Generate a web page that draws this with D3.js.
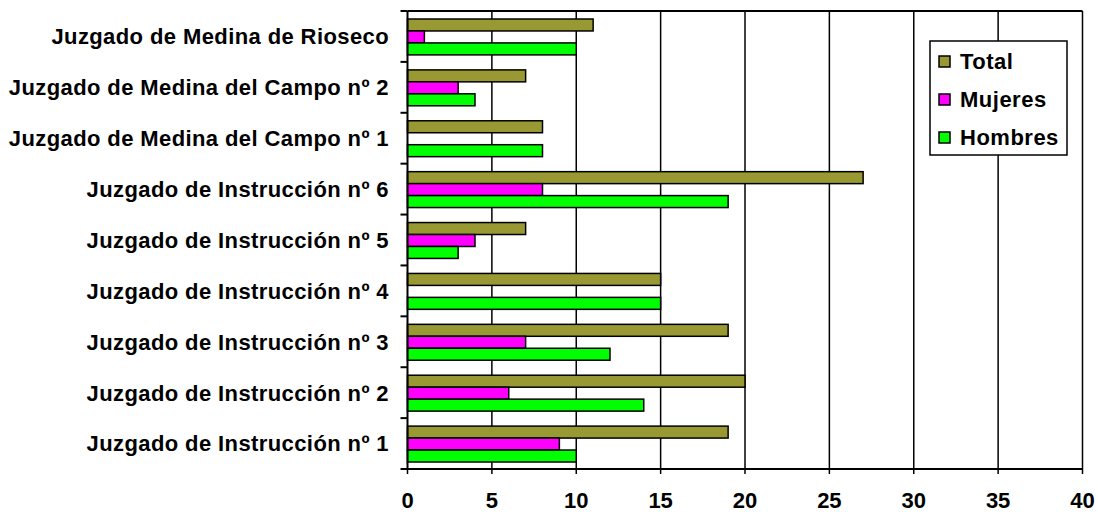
<!DOCTYPE html>
<html><head><meta charset="utf-8">
<script src="https://cdn.jsdelivr.net/npm/d3@7"></script>
<style>body{margin:0;background:#fff}svg{display:block}</style>
</head><body><svg id="c" width="1098" height="512"></svg>
<script>
const categories = ["Juzgado de Medina de Rioseco","Juzgado de Medina del Campo nº 2","Juzgado de Medina del Campo nº 1","Juzgado de Instrucción nº 6","Juzgado de Instrucción nº 5","Juzgado de Instrucción nº 4","Juzgado de Instrucción nº 3","Juzgado de Instrucción nº 2","Juzgado de Instrucción nº 1"];
const seriesNames = ["Total","Mujeres","Hombres"];
const total   = [11,7,8,27,7,15,19,20,19];
const mujeres = [1,3,0,8,4,0,7,6,9];
const hombres = [10,4,8,19,3,15,12,14,10];
const xTicks = [0,5,10,15,20,25,30,35,40];
const colors = ["#999933","#FF00FF","#00FF00"];

const svg = d3.select("#c");
const L=407.5, R=1082.5, T=11, B=469;
const x = d3.scaleLinear().domain([0,40]).range([L,R]);
const y = d3.scaleBand().domain(categories).range([T,B]).paddingInner(0).paddingOuter(0);
const inner = d3.scaleBand().domain(seriesNames).range([8, y.bandwidth()-7]);
const font = "'Liberation Sans', Arial, sans-serif";

// gridlines
svg.append("g").selectAll("line").data(xTicks.slice(1)).join("line")
  .attr("x1",d=>x(d)).attr("x2",d=>x(d)).attr("y1",T).attr("y2",B)
  .attr("stroke","#000").attr("stroke-width",1.5);
// top border
svg.append("line").attr("x1",L).attr("x2",R).attr("y1",T).attr("y2",T).attr("stroke","#000").attr("stroke-width",2);

const data = [total,mujeres,hombres];
categories.forEach((c,i)=>{
  seriesNames.forEach((s,j)=>{
    const v = data[j][i];
    if(v<=0) return;
    svg.append("rect").attr("x",x(0)).attr("y",y(c)+inner(s))
      .attr("width",x(v)-x(0)).attr("height",inner.bandwidth())
      .attr("fill",colors[j]).attr("stroke","#000").attr("stroke-width",1.5);
  });
});

// y axis
svg.append("line").attr("x1",L).attr("x2",L).attr("y1",T).attr("y2",B).attr("stroke","#000").attr("stroke-width",2);
const bounds = categories.map(c=>y(c)).concat([B]);
svg.append("g").selectAll("line").data(bounds).join("line")
  .attr("x1",L-7).attr("x2",L).attr("y1",d=>d).attr("y2",d=>d).attr("stroke","#000").attr("stroke-width",2);
svg.append("g").selectAll("text").data(categories).join("text")
  .attr("x",389).attr("y",c=>y(c)+y.bandwidth()/2).attr("dy","0.36em")
  .attr("text-anchor","end").attr("font-family",font).attr("font-weight","bold")
  .attr("font-size",22).attr("letter-spacing",0.4).text(d=>d);

// x axis
svg.append("line").attr("x1",L).attr("x2",R).attr("y1",B).attr("y2",B).attr("stroke","#000").attr("stroke-width",2);
svg.append("g").selectAll("line").data(xTicks).join("line")
  .attr("x1",d=>x(d)).attr("x2",d=>x(d)).attr("y1",B).attr("y2",B+5).attr("stroke","#000").attr("stroke-width",1.5);
svg.append("g").selectAll("text").data(xTicks).join("text")
  .attr("x",d=>x(d)).attr("y",508).attr("text-anchor","middle")
  .attr("font-family",font).attr("font-weight","bold").attr("font-size",22).text(d=>d);

// legend
const lg = svg.append("g");
lg.append("rect").attr("x",930).attr("y",41).attr("width",137).attr("height",114)
  .attr("fill","#fff").attr("stroke","#000").attr("stroke-width",1.5);
seriesNames.forEach((s,j)=>{
  const cy = 61.5 + j*38;
  lg.append("rect").attr("x",939).attr("y",cy-5.5).attr("width",11).attr("height",11)
    .attr("fill",colors[j]).attr("stroke","#000").attr("stroke-width",1.5);
  lg.append("text").attr("x",960).attr("y",cy).attr("dy","0.36em")
    .attr("font-family",font).attr("font-weight","bold").attr("font-size",22).attr("letter-spacing",0.5).text(s);
});
</script></body></html>
